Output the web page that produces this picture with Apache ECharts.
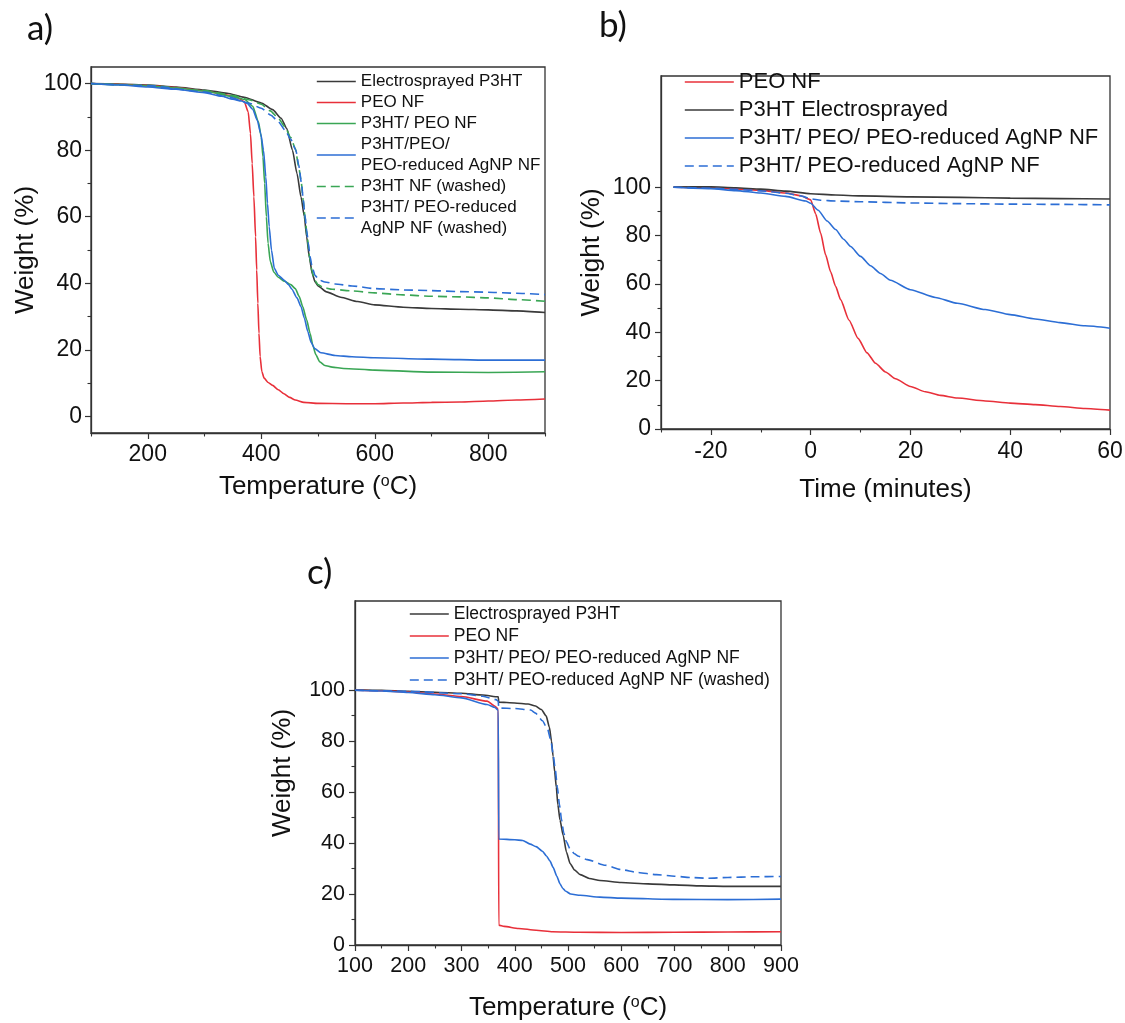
<!DOCTYPE html>
<html><head><meta charset="utf-8">
<script src="https://cdn.jsdelivr.net/npm/echarts@6/dist/echarts.min.js"></script>
<style>html,body{margin:0;padding:0;background:#fff}#c{width:1125px;height:1023px}</style>
</head><body><div id="c"></div>
<script>
// ---------- Panel a: TGA (temperature ramp) ----------
const aElectrosprayedP3HT = [[100,100],[150,99.9],[200,99.6],[250,99.0],[300,98.1],[340,97.1],[370,95.9],[400,94.2],[420,92.2],[435,89.6],[445,86.5],[455,80],[463,73],[470,66],[476,60],[480,54],[485,47.5],[490,42.8],[495,40.4],[500,39.2],[515,37.4],[540,35.8],[570,34.5],[600,33.5],[650,32.8],[700,32.4],[750,32.2],[800,32],[850,31.7],[900,31.2]];
const aPEONF = [[100,100],[150,99.8],[200,99.4],[250,98.8],[300,97.8],[340,96.6],[360,95.6],[370,94.6],[377,91.5],[381,85],[384,76],[387,66],[390,54],[392,44],[394,34],[396,25],[398,18],[401,13.5],[405,11.5],[412,10.2],[420,9.3],[430,8],[440,6.8],[450,5.7],[460,4.9],[475,4.2],[500,3.9],[550,3.8],[600,3.8],[650,4],[700,4.2],[750,4.3],[800,4.6],[850,4.9],[900,5.2]];
const aP3HTPEONF = [[100,100],[150,99.7],[200,99.3],[250,98.7],[300,97.8],[350,96.1],[370,95.3],[385,93.2],[395,88.5],[400,84],[403,78],[406,70],[409,60],[412,52],[416,46.5],[422,43.4],[430,41.8],[441,40.6],[452,39.6],[460,38.4],[467,36],[473,33],[480,29],[486,25],[491,21.3],[496,18.6],[503,16.4],[512,15.3],[525,14.8],[545,14.4],[600,13.9],[700,13.3],[800,13.2],[900,13.4]];
const aP3HTPEOAgNP = [[100,100],[150,99.6],[200,99],[250,98.3],[300,97.3],[330,96.2],[350,95.3],[365,94.8],[375,94.1],[385,92.3],[393,89],[399,85],[404,80],[408,72],[411,64],[414,57],[418,50],[423,44.5],[430,42.4],[440,41],[448,39.6],[454,38.2],[463,35.6],[470,33],[476,29.5],[482,25.5],[488,22.2],[494,20.4],[505,19.1],[530,18.3],[560,17.9],[600,17.6],[700,17.2],[800,16.9],[900,16.9]];
const aP3HTNFWashed = [[100,100],[200,99.5],[300,97.9],[350,96.4],[380,95.1],[400,93.8],[416,91.8],[430,89.6],[442,87],[452,83.8],[460,80.5],[466,75],[470,71],[474,65],[477,60],[481,54],[485,48],[489,44],[494,41],[500,39.6],[510,38.7],[525,38.2],[560,37.7],[600,37.1],[650,36.5],[700,36.1],[750,35.9],[800,35.6],[850,35.1],[900,34.6]];
const aP3HTAgNPWashed = [[100,100],[200,99.4],[300,97.5],[342,96],[379,94.1],[400,92.6],[417,90.5],[430,88.6],[442,86],[452,83.3],[461,80],[466,75.5],[471,70],[474,65],[477,60.5],[480,56],[483,52],[486,48],[490,44.6],[495,42.3],[502,41],[512,40.4],[530,39.8],[560,39.2],[600,38.4],[650,38],[700,37.8],[750,37.5],[800,37.3],[850,37],[900,36.6]];
const aXLabels = [200,400,600,800];
const aXMinor = [100,300,500,700,900];
const aYLabels = [0,20,40,60,80,100];
const aYMinor = [10,30,50,70,90];

// ---------- Panel b: isothermal (time) ----------
const bPEONF = [[-27.5,100],[-20,99.8],[-15,99.3],[-10,98.7],[-5,97.6],[-2,96.5],[0,94.8],[1,89],[2,81],[3,72],[4,65],[5,59],[6,53.5],[7.7,45],[9.5,37.5],[11.3,31.5],[13,27.2],[15,23.6],[17,20.8],[20,17.6],[23,15.4],[26,13.9],[29.4,12.8],[35,11.6],[40,10.7],[45,10.1],[50,9.3],[55,8.5],[60,7.8]];
const bP3HTElectrosprayed = [[-27.5,100.1],[-20,100.2],[-15,99.8],[-10,99.2],[-5,98.4],[0,97.3],[5,96.8],[10,96.4],[20,96],[30,95.8],[40,95.5],[50,95.3],[60,95.1]];
const bP3HTPEOAgNP = [[-27.5,100],[-20,99.4],[-15,98.6],[-10,97.6],[-5,96.2],[-1,94.3],[0,93.4],[1.5,90.5],[3.3,86],[5,82.5],[6.6,78.5],[8,75.5],[10,71.4],[12,67.5],[14,64.3],[16,61.5],[20,57.6],[25,54.4],[29.4,52],[35,49.4],[40,47.3],[45,45.5],[50,44],[55,42.7],[60,41.7]];
const bP3HTAgNP = [[-27.5,100],[-20,99.6],[-15,99.1],[-10,98.5],[-5,97.5],[-2,96.4],[0,95.2],[2,94.6],[5,94.3],[10,94],[20,93.5],[30,93.2],[40,93],[50,92.9],[60,92.7]];
const bXLabels = [-20,0,20,40,60];
const bXMinor = [-30,-10,10,30,50];
const bYLabels = [0,20,40,60,80,100];
const bYMinor = [10,30,50,70,90];

// ---------- Panel c ----------
const cElectrosprayedP3HT = [[100,100.2],[150,100],[200,99.6],[250,99.2],[300,98.8],[340,98.1],[369,97.4],[370,95.3],[400,95],[425,94.6],[439,93.8],[450,92.4],[459,89.9],[465,85.5],[469,80],[472,74],[475,68],[478,62],[481,55],[485,49],[491,43],[497,36.5],[504,32],[512,29.5],[523,27.6],[540,26.1],[560,25.3],[600,24.5],[650,24],[700,23.6],[750,23.2],[800,23],[900,23]];
const cPEONF = [[100,100],[150,99.8],[200,99.3],[250,98.5],[300,97.5],[348,95.7],[363,93.7],[369,92.5],[370,7.8],[380,7.3],[407,6.5],[440,5.8],[471,5.2],[520,5],[600,4.9],[700,5],[800,5.1],[900,5.2]];
const cP3HTPEOAgNP = [[100,100],[150,99.7],[200,99.1],[250,98.2],[300,97],[348,94.4],[363,93.2],[369,92],[370,41.6],[400,41.3],[415,41],[429,39.6],[440,38.6],[452,36.8],[460,34.8],[466,33],[472,30.5],[479,27],[485,24],[490,22.3],[495,21.2],[505,20],[523,19.5],[560,18.8],[600,18.4],[700,17.9],[800,17.8],[900,18]];
const cP3HTAgNPWashed = [[100,100],[200,99.6],[300,98.6],[340,97.6],[365,96.3],[369,95.6],[370,93],[400,92.8],[430,92.2],[439,91],[452,88],[462,84.5],[468,80],[472,75],[476,69],[480,62],[484,55],[488,49],[492,44],[497,40.5],[504,37.6],[512,35.8],[520,34.8],[536,33.5],[570,31.3],[600,29.6],[630,28.5],[666,27.6],[700,27],[730,26.5],[763,26.2],[800,26.5],[850,26.8],[900,26.9]];
const cXLabels = [100,200,300,400,500,600,700,800,900];
const cXMinor = [150,250,350,450,550,650,750,850];
const cYLabels = [0,20,40,60,80,100];
const cYMinor = [10,30,50,70,90];

// ---------- styling ----------
const FONT = "'Liberation Sans', Arial, sans-serif";
const AX = '#333';
const BLACK = '#3a3a3a', RED = '#e8303a', GREEN = '#3aa655', BLUE = '#2c6ed5';
const DASH = [9, 5];

function majorAxis(dim, grid, min, max, labels, name, nameGap, labelSize, margin) {
  return {
    type: 'value', gridIndex: grid, min: min, max: max,
    position: dim === 'x' ? 'bottom' : 'left',
    axisLine: {show: true, onZero: false, lineStyle: {color: AX, width: 1.3}},
    axisTick: {show: true, inside: false, length: 6, customValues: labels, lineStyle: {color: AX, width: 1.2}},
    axisLabel: {show: true, customValues: labels, fontSize: labelSize, color: '#111', fontFamily: FONT, margin: margin},
    splitLine: {show: false},
    name: name, nameLocation: 'middle', nameGap: nameGap,
    nameTextStyle: {fontSize: 26, color: '#111', fontFamily: FONT,
      rich: {s: {fontSize: 16, verticalAlign: 'top', color: '#111', fontFamily: FONT, lineHeight: 17}}}
  };
}
function minorAxis(dim, grid, min, max, ticks) {
  return {
    type: 'value', gridIndex: grid, min: min, max: max,
    position: dim === 'x' ? 'bottom' : 'left',
    axisLine: {show: false, onZero: false},
    axisTick: {show: true, inside: false, length: 3.5, customValues: ticks, lineStyle: {color: AX, width: 1.1}},
    axisLabel: {show: false},
    splitLine: {show: false}
  };
}
function line(name, data, xi, color, dashed) {
  return {
    type: 'line', name: name, data: data, xAxisIndex: xi, yAxisIndex: xi,
    symbol: 'none', smooth: 0.2, smoothMonotone: 'x',
    lineStyle: {color: color, width: 1.6, type: dashed ? DASH : 'solid'},
    itemStyle: {color: color}, z: 3
  };
}
const legendBase = {orient: 'vertical', padding: 0, itemGap: 0, itemHeight: 12,
  itemStyle: {opacity: 0, borderWidth: 0}, lineStyle: {width: 1.6}};

const tempName = 'Temperature ({s|o}C)';
const N_A4 = 'P3HT/PEO/\nPEO-reduced AgNP NF';
const N_A6 = 'P3HT/ PEO-reduced\nAgNP NF (washed)';
const letterStyle = {fontFamily: 'Lato', fontSize: 35, fontWeight: 'normal', color: '#111'};

const chart = echarts.init(document.getElementById('c'));
chart.setOption({
  animation: false,
  backgroundColor: '#fff',
  title: [
    {text: 'a)', left: 27, top: 11, padding: 0, textStyle: letterStyle},
    {text: 'b)', left: 599, top: 8, padding: 0, textStyle: letterStyle},
    {text: 'c)', left: 307, top: 555, padding: 0, textStyle: letterStyle}
  ],
  grid: [
    {left: 91, top: 67, width: 454, height: 366, show: true, borderColor: AX, borderWidth: 1.3, backgroundColor: 'transparent', containLabel: false, outerBoundsMode: 'none'},
    {left: 661, top: 76, width: 449, height: 353, show: true, borderColor: AX, borderWidth: 1.3, backgroundColor: 'transparent', containLabel: false, outerBoundsMode: 'none'},
    {left: 355, top: 601, width: 426, height: 344, show: true, borderColor: AX, borderWidth: 1.3, backgroundColor: 'transparent', containLabel: false, outerBoundsMode: 'none'}
  ],
  xAxis: [
    majorAxis('x', 0, 100, 900, aXLabels, tempName, 41, 23, 10),
    minorAxis('x', 0, 100, 900, aXMinor),
    majorAxis('x', 1, -30, 60, bXLabels, 'Time (minutes)', 48, 23, 11),
    minorAxis('x', 1, -30, 60, bXMinor),
    majorAxis('x', 2, 100, 900, cXLabels, tempName, 50, 21.5, 10),
    minorAxis('x', 2, 100, 900, cXMinor)
  ],
  yAxis: [
    majorAxis('y', 0, -5, 105, aYLabels, 'Weight (%)', 52, 23, 9),
    minorAxis('y', 0, -5, 105, aYMinor),
    majorAxis('y', 1, 0, 146, bYLabels, 'Weight (%)', 56, 23, 10),
    minorAxis('y', 1, 0, 146, bYMinor),
    majorAxis('y', 2, 0, 135, cYLabels, 'Weight (%)', 59, 21.5, 10),
    minorAxis('y', 2, 0, 135, cYMinor)
  ],
  legend: [
    Object.assign({}, legendBase, {left: 316, top: 71, itemWidth: 39,
     textStyle: {fontSize: 17, lineHeight: 21, color: '#111', fontFamily: FONT},
     data: ['Electrosprayed P3HT', 'PEO NF', 'P3HT/ PEO NF', N_A4, 'P3HT NF (washed)', N_A6]}),
    Object.assign({}, legendBase, {left: 684, top: 68, itemWidth: 49,
     textStyle: {fontSize: 22, lineHeight: 28, color: '#111', fontFamily: FONT},
     data: ['PEO NF ', 'P3HT Electrosprayed', 'P3HT/ PEO/ PEO-reduced AgNP NF', 'P3HT/ PEO-reduced AgNP NF']}),
    Object.assign({}, legendBase, {left: 409, top: 603, itemWidth: 39,
     textStyle: {fontSize: 17.5, lineHeight: 22, color: '#111', fontFamily: FONT},
     data: ['Electrosprayed P3HT ', 'PEO NF  ', 'P3HT/ PEO/ PEO-reduced AgNP NF ', 'P3HT/ PEO-reduced AgNP NF (washed)']})
  ],
  series: [
    line('Electrosprayed P3HT', aElectrosprayedP3HT, 0, BLACK, false),
    line('PEO NF', aPEONF, 0, RED, false),
    line('P3HT/ PEO NF', aP3HTPEONF, 0, GREEN, false),
    line(N_A4, aP3HTPEOAgNP, 0, BLUE, false),
    line('P3HT NF (washed)', aP3HTNFWashed, 0, GREEN, true),
    line(N_A6, aP3HTAgNPWashed, 0, BLUE, true),

    line('PEO NF ', bPEONF, 2, RED, false),
    line('P3HT Electrosprayed', bP3HTElectrosprayed, 2, BLACK, false),
    line('P3HT/ PEO/ PEO-reduced AgNP NF', bP3HTPEOAgNP, 2, BLUE, false),
    line('P3HT/ PEO-reduced AgNP NF', bP3HTAgNP, 2, BLUE, true),

    line('Electrosprayed P3HT ', cElectrosprayedP3HT, 4, BLACK, false),
    line('PEO NF  ', cPEONF, 4, RED, false),
    line('P3HT/ PEO/ PEO-reduced AgNP NF ', cP3HTPEOAgNP, 4, BLUE, false),
    line('P3HT/ PEO-reduced AgNP NF (washed)', cP3HTAgNPWashed, 4, BLUE, true)
  ]
});
</script></body></html>
